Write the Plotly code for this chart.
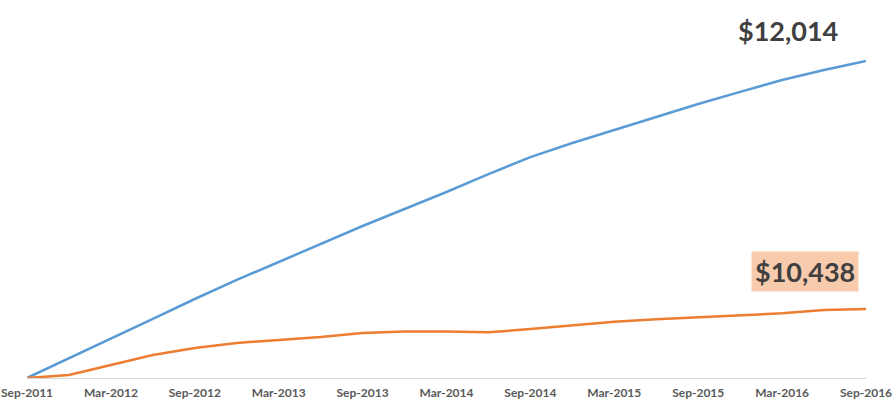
import plotly.graph_objects as go

quarters = ["Sep-2011", "Dec-2011", "Mar-2012", "Jun-2012", "Sep-2012", "Dec-2012",
            "Mar-2013", "Jun-2013", "Sep-2013", "Dec-2013", "Mar-2014", "Jun-2014",
            "Sep-2014", "Dec-2014", "Mar-2015", "Jun-2015", "Sep-2015", "Dec-2015",
            "Mar-2016", "Jun-2016", "Sep-2016"]

blue_values = [10000, 10124, 10248, 10375, 10502, 10623, 10737, 10852, 10966, 11074,
               11182, 11296, 11404, 11493, 11576, 11659, 11741, 11818, 11894, 11957, 12014]

orange_values = [10000, 10019, 10083, 10146, 10191, 10222, 10242, 10260, 10286, 10295,
                 10295, 10290, 10311, 10333, 10358, 10373, 10386, 10396, 10411, 10432, 10438]

tick_labels = ["Sep-2011", "Mar-2012", "Sep-2012", "Mar-2013", "Sep-2013", "Mar-2014",
               "Sep-2014", "Mar-2015", "Sep-2015", "Mar-2016", "Sep-2016"]

x_idx = list(range(len(quarters)))
tick_idx = [quarters.index(t) for t in tick_labels]

fig = go.Figure()
fig.add_trace(go.Scatter(x=x_idx, y=blue_values, mode="lines",
                         line=dict(color="#5B9BD5", width=2.5), showlegend=False))
fig.add_trace(go.Scatter(x=x_idx, y=orange_values, mode="lines",
                         line=dict(color="#ED7D31", width=2.5), showlegend=False))

fig.add_annotation(xref="paper", yref="paper", x=0.907, y=0.918,
                   text="<b>$12,014</b>", showarrow=False,
                   font=dict(family="Lato", size=27, color="#404040"),
                   xanchor="center", yanchor="middle")
fig.add_annotation(xref="paper", yref="paper", x=0.927, y=0.281,
                   text="<b>$10,438</b>", showarrow=False,
                   font=dict(family="Lato", size=27, color="#404040"),
                   bgcolor="#F8CBAD", borderpad=3,
                   xanchor="center", yanchor="middle")

fig.update_layout(
    width=896, height=407,
    margin=dict(l=27, r=30, t=0, b=29),
    plot_bgcolor="white", paper_bgcolor="white",
    xaxis=dict(range=[0, 20], tickmode="array", tickvals=tick_idx, ticktext=tick_labels,
               showgrid=False, zeroline=False, showline=True, linecolor="#D9D9D9",
               linewidth=1, ticks="outside", ticklen=4, tickcolor="rgba(0,0,0,0)",
               ticklabeloverflow="allow",
               tickfont=dict(family="Lato", size=12, color="#595959", weight="bold")),
    yaxis=dict(range=[10000, 12402], showgrid=False, zeroline=False, showline=False,
               showticklabels=False, ticks=""),
)

fig.write_html("out.html", config={"displayModeBar": False},
               post_script="document.body.style.margin='0';document.body.style.overflow='hidden';")
